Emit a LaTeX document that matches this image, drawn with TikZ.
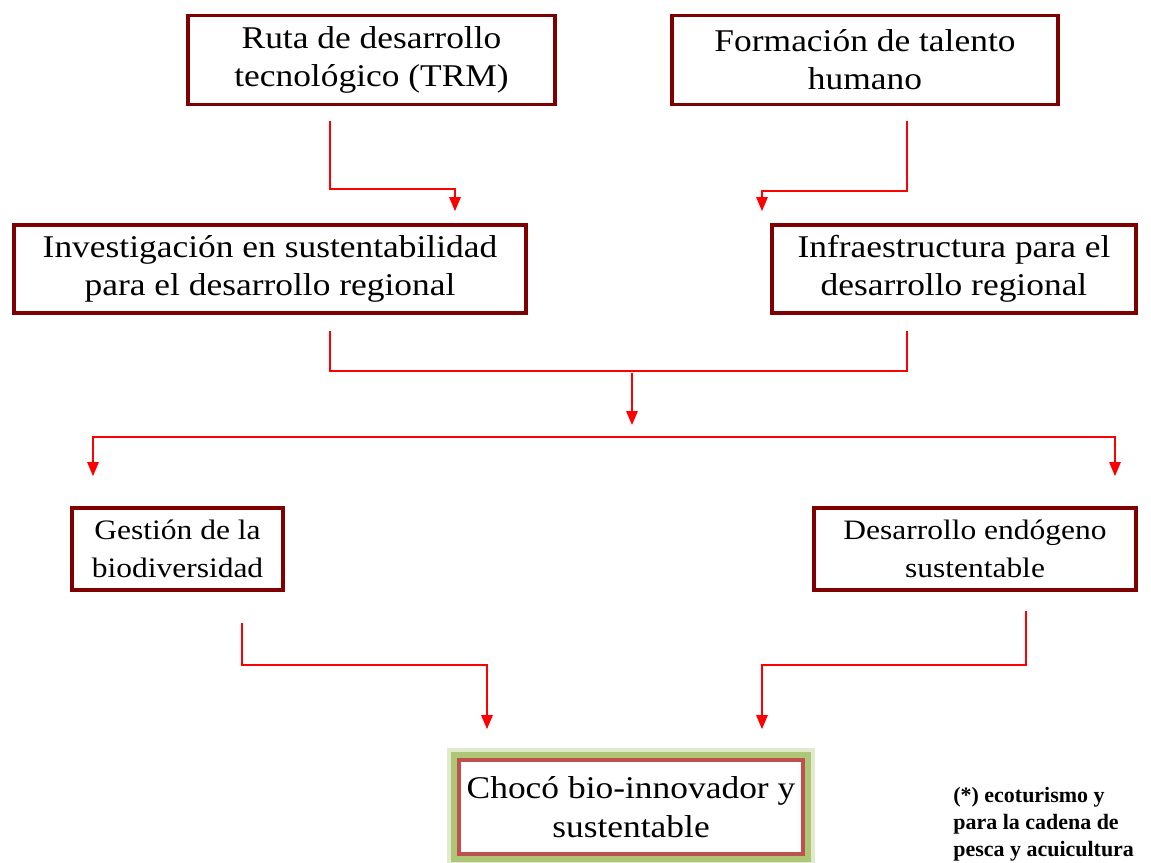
\documentclass[tikz,border=0pt]{standalone}
\usepackage{fontspec}
\setmainfont{Liberation Serif}[FakeStretch=1.12]
\newfontfamily\notafont{Liberation Serif}
\usepackage{tikz}
\usetikzlibrary{calc, positioning, shapes, arrows}
\definecolor{granate}{RGB}{127,0,0}
\definecolor{rojoclaro}{RGB}{192,80,77}
\definecolor{verdeglow}{RGB}{155,187,89}

\begin{document}
\begin{tikzpicture}[
        caja/.style={draw=granate, line width=2.2pt, fill=white, align=center, inner sep=2pt},
        flecha/.style={draw=red, line width=0.8pt, -triangle 45},
        linea/.style={draw=red, line width=0.8pt}]

		\useasboundingbox (0,0) rectangle (23.02,-17.26);

		\node[caja, minimum width=7.34cm, minimum height=1.78cm, font=\fontsize{18}{21.6}\selectfont] (trm) at (7.43,-1.2) {Ruta de desarrollo\\tecnológico (TRM)};
		\node[caja, minimum width=7.72cm, minimum height=1.78cm, font=\fontsize{18}{21.6}\selectfont] (talento) at (17.3,-1.2) {Formación de talento\\humano};
		\node[caja, minimum width=10.24cm, minimum height=1.76cm, font=\fontsize{18}{21.6}\selectfont] (invest) at (5.4,-5.38) {Investigación en sustentabilidad\\para el desarrollo regional};
		\node[caja, minimum width=7.28cm, minimum height=1.76cm, font=\fontsize{18}{21.6}\selectfont] (infra) at (19.08,-5.38) {Infraestructura para el\\desarrollo regional};
		\node[caja, minimum width=4.22cm, minimum height=1.64cm, font=\fontsize{16}{21.6}\selectfont] (gestion) at (3.55,-10.98) {Gestión de la\\biodiversidad};
		\node[caja, minimum width=6.44cm, minimum height=1.64cm, font=\fontsize{16}{21.6}\selectfont] (endogeno) at (19.5,-10.98) {Desarrollo endógeno\\sustentable};
		\node[caja, draw=rojoclaro, minimum width=6.88cm, minimum height=1.88cm, font=\fontsize{18}{22}\selectfont,
		      preaction={draw=verdeglow, line width=14pt, opacity=0.3},
		      preaction={draw=verdeglow, line width=9pt, opacity=0.75}] (choco) at (12.62,-16.14) {Chocó bio-innovador y\\sustentable};
		\node[anchor=north west, align=left, inner sep=0pt, font=\notafont\fontsize{12.5}{15.2}\selectfont\bfseries] (nota) at (19.06,-15.74) {(*) ecoturismo y\\para la cadena de\\pesca y acuicultura};

		% primera fila hacia la segunda
		\draw[flecha] ($(trm.south)+(-0.83,-0.3)$) |- ($(invest.north)+(3.7,0.68)$) -- ($(invest.north)+(3.7,0.24)$);
		\draw[flecha] ($(talento.south)+(0.84,-0.3)$) |- ($(infra.north)+(-3.84,0.64)$) -- ($(infra.north)+(-3.84,0.24)$);

		% union y reparto
		\coordinate (junta) at (12.64,-7.42);
		\coordinate (reparte) at (12.64,-8.74);
		\draw[linea] ($(invest.south)+(1.2,-0.32)$) |- (junta);
		\draw[linea] ($(infra.south)+(-0.94,-0.32)$) |- (junta);
		\draw[flecha] ([yshift=-0.04cm]junta) -- ([yshift=0.24cm]reparte);
		\draw[flecha] (reparte) -| ($(gestion.north)+(-1.69,0.6)$);
		\draw[flecha] (reparte) -| ($(endogeno.north)+(2.8,0.6)$);

		% hacia el resultado
		\draw[flecha] ($(gestion.south)+(1.29,-0.62)$) |- ($(choco.north)+(-2.88,1.86)$) -- ($(choco.north)+(-2.88,0.58)$);
		\draw[flecha] ($(endogeno.south)+(1.02,-0.38)$) |- ($(choco.north)+(2.62,1.86)$) -- ($(choco.north)+(2.62,0.58)$);

	\end{tikzpicture}
\end{document}
